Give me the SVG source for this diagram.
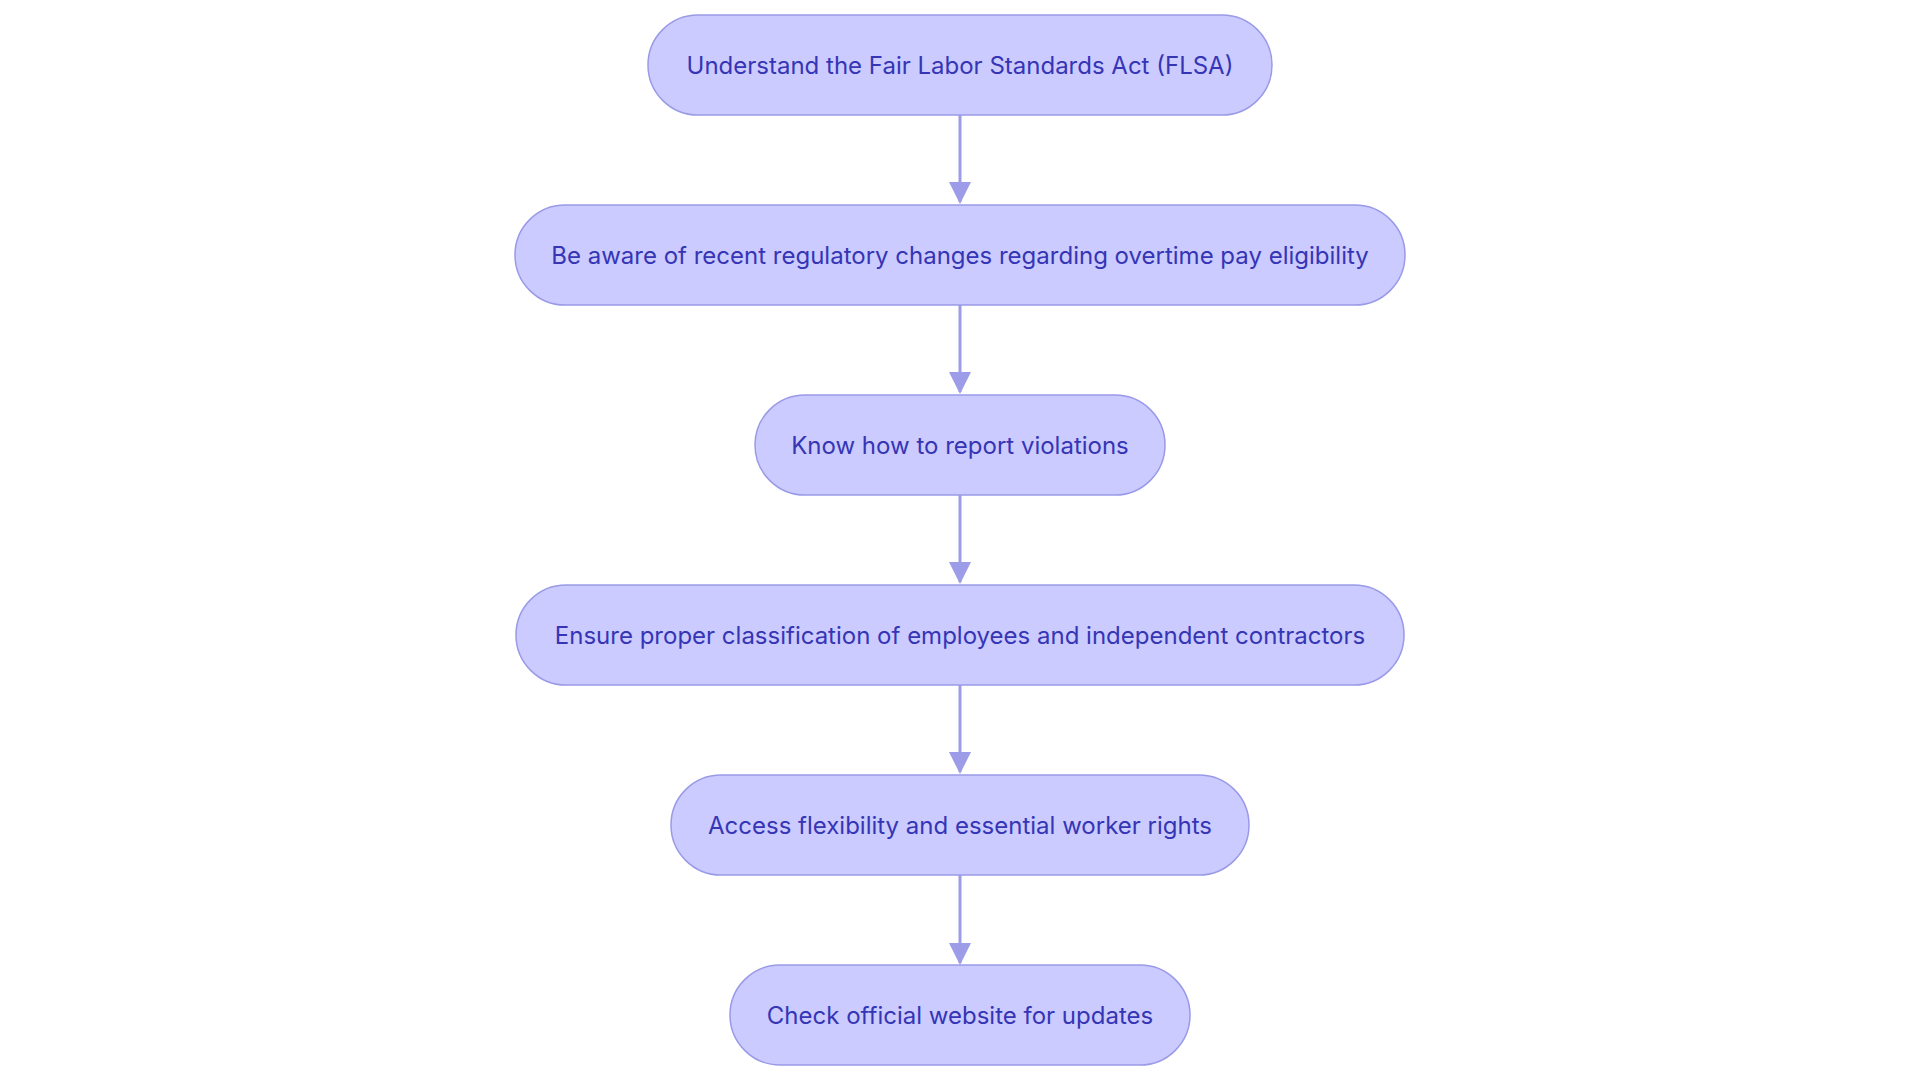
<svg xmlns="http://www.w3.org/2000/svg" width="1920" height="1080" viewBox="0 0 1920 1080">
<style>
.n rect{fill:#cbcbff;stroke:#9a9ae8;stroke-width:1.5}
.n text{font-family:Inter,"Noto Sans",sans-serif;font-size:24px;fill:#3535b5;text-anchor:middle;dominant-baseline:central}
.e line{stroke:#9c9ce8;stroke-width:3}
</style>
<defs><marker id="a" markerWidth="10" markerHeight="10" refX="8" refY="5" orient="auto" markerUnits="userSpaceOnUse" viewBox="0 0 10 10"><path d="M0,0L10,5L0,10z" fill="#9c9ce8"/></marker></defs>
<rect width="1920" height="1080" fill="#fff"/>
<g class="e">
<line x1="960" y1="115" x2="960" y2="202" marker-end="url(#a)" style="marker-end:none"/>
<path d="M949,182L960,204L971,182z" fill="#9c9ce8"/>
<line x1="960" y1="305" x2="960" y2="392"/>
<path d="M949,372L960,394L971,372z" fill="#9c9ce8"/>
<line x1="960" y1="495" x2="960" y2="582"/>
<path d="M949,562L960,584L971,562z" fill="#9c9ce8"/>
<line x1="960" y1="684" x2="960" y2="772"/>
<path d="M949,752L960,774L971,752z" fill="#9c9ce8"/>
<line x1="960" y1="874" x2="960" y2="963"/>
<path d="M949,943L960,965L971,943z" fill="#9c9ce8"/>
</g>
<g id="n1" class="n"><rect x="648" y="15" width="624" height="100" rx="50"/><text x="960" y="65">Understand the Fair Labor Standards Act (FLSA)</text></g>
<g id="n2" class="n"><rect x="515" y="205" width="890" height="100" rx="50"/><text x="960" y="255">Be aware of recent regulatory changes regarding overtime pay eligibility</text></g>
<g id="n3" class="n"><rect x="755" y="395" width="410" height="100" rx="50"/><text x="960" y="445">Know how to report violations</text></g>
<g id="n4" class="n"><rect x="516" y="585" width="888" height="100" rx="50"/><text x="960" y="635">Ensure proper classification of employees and independent contractors</text></g>
<g id="n5" class="n"><rect x="671" y="775" width="578" height="100" rx="50"/><text x="960" y="825">Access flexibility and essential worker rights</text></g>
<g id="n6" class="n"><rect x="730" y="965" width="460" height="100" rx="50"/><text x="960" y="1015">Check official website for updates</text></g>
</svg>
